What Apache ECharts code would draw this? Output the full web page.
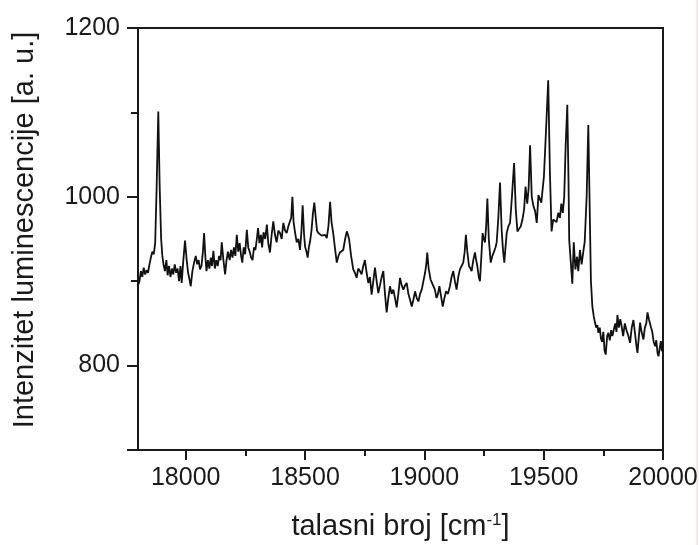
<!DOCTYPE html>
<html>
<head>
<meta charset="utf-8">
<script src="https://cdn.jsdelivr.net/npm/echarts@6/dist/echarts.min.js"></script>
<style>
  html, body { margin: 0; padding: 0; background: #fff; }
  #chart { width: 699px; height: 545px; }
</style>
</head>
<body>
<div id="chart"></div>
<script>
// Luminescence spectrum: wavenumber (cm^-1) vs. intensity (a. u.)
const wavenumber = [
  17800, 17806, 17812, 17818, 17824, 17830, 17836, 17842, 17848, 17854,
  17860, 17866, 17872, 17878, 17885, 17891, 17897, 17902, 17908, 17913,
  17919, 17924, 17930, 17936, 17942, 17948, 17954, 17960, 17966, 17972,
  17978, 17983, 17990, 17997, 18004, 18010, 18016, 18021, 18028, 18035,
  18042, 18048, 18054, 18060, 18066, 18072, 18077, 18082, 18087, 18093,
  18099, 18105, 18110, 18116, 18122, 18128, 18134, 18140, 18146, 18151,
  18158, 18165, 18171, 18177, 18184, 18190, 18196, 18202, 18208, 18214,
  18220, 18226, 18232, 18237, 18243, 18249, 18256, 18262, 18268, 18274,
  18280, 18286, 18292, 18298, 18303, 18309, 18315, 18320, 18326, 18333,
  18340, 18346, 18353, 18360, 18367, 18374, 18381, 18388, 18395, 18402,
  18409, 18416, 18423, 18430, 18437, 18442, 18447, 18452, 18458, 18465,
  18472, 18479, 18485, 18490, 18496, 18500, 18506, 18511, 18516, 18521,
  18527, 18533, 18539, 18545, 18550, 18556, 18563, 18570, 18577, 18584,
  18591, 18598, 18605, 18611, 18618, 18625, 18633, 18640, 18646, 18653,
  18660, 18668, 18675, 18680, 18685, 18693, 18702, 18709, 18716, 18723,
  18730, 18737, 18744, 18751, 18758, 18765, 18772, 18779, 18786, 18793,
  18800, 18807, 18814, 18821, 18828, 18835, 18842, 18849, 18856, 18863,
  18870, 18877, 18884, 18891, 18898, 18905, 18912, 18919, 18926, 18933,
  18940, 18947, 18954, 18961, 18968, 18975, 18982, 18989, 18996, 19003,
  19008, 19012, 19018, 19026, 19032, 19037, 19044, 19051, 19057, 19063,
  19070, 19077, 19084, 19091, 19099, 19107, 19114, 19121, 19128, 19135,
  19142, 19149, 19156, 19163, 19169, 19174, 19180, 19187, 19193, 19198,
  19205, 19212, 19217, 19222, 19228, 19233, 19239, 19244, 19249, 19254,
  19259, 19264, 19270, 19278, 19285, 19292, 19298, 19303, 19310, 19317,
  19324, 19330, 19335, 19340, 19345, 19352, 19359, 19367, 19376, 19383,
  19390, 19397, 19404, 19411, 19418, 19424, 19431, 19437, 19443, 19450,
  19457, 19464, 19471, 19478, 19485, 19490, 19496, 19501, 19510, 19519,
  19526, 19533, 19540, 19547, 19554, 19561, 19568, 19574, 19580, 19586,
  19592, 19599, 19604, 19607, 19613, 19620, 19626, 19633, 19640, 19645,
  19652, 19659, 19666, 19672, 19680, 19687, 19692, 19698, 19704, 19710,
  19715, 19720, 19725, 19729, 19735, 19740, 19745, 19750, 19755, 19760,
  19766, 19771, 19777, 19783, 19788, 19794, 19800, 19805, 19809, 19815,
  19821, 19827, 19833, 19840, 19848, 19855, 19862, 19869, 19876, 19882,
  19888, 19893, 19899, 19904, 19910, 19918, 19924, 19930, 19935, 19941,
  19949, 19955, 19961, 19967, 19972, 19977, 19981, 19986, 19991, 19995,
  20000
];

const intensity = [
  895, 900, 912, 905, 916, 908, 913, 910, 920, 928,
  935, 932, 945, 1010, 1101, 1010, 950, 930, 918, 912,
  925, 907, 918, 905, 915, 908, 920, 910, 915, 900,
  918, 898, 925, 948, 925, 910, 902, 894, 912, 922,
  930, 920, 925, 914, 918, 935, 957, 930, 912, 925,
  915, 928, 918, 936, 915, 925, 918, 930, 925, 946,
  925, 908, 925, 935, 925, 937, 928, 940, 930, 955,
  935, 945, 930, 922, 940, 932, 961, 940, 935, 928,
  925, 940, 937, 950, 963, 945, 955, 940, 958, 950,
  967, 945, 934, 955, 971, 955, 946, 960, 957, 950,
  969, 960, 957, 965, 971, 975, 1000, 970, 958, 946,
  950, 937, 960, 990, 955, 941, 935, 928, 940, 947,
  960, 980, 993, 975, 960, 957, 955, 954, 952, 955,
  951, 965, 994, 970, 957, 940, 922, 930, 934, 935,
  937, 950, 959, 955, 949, 930, 914, 910, 904, 915,
  912, 908, 918, 925, 910, 898, 905, 884, 900, 916,
  900, 886, 895, 905, 912, 885, 863, 880, 894, 885,
  890, 880, 869, 885, 904, 895, 890, 895, 898, 885,
  878, 870, 878, 888, 880, 876, 885, 890, 900, 910,
  920, 934, 915, 902, 898, 900, 890, 880, 885, 894,
  882, 870, 880, 888, 885, 894, 905, 912, 900, 890,
  905, 914, 918, 922, 935, 955, 935, 918, 915, 912,
  925, 934, 925, 918, 905, 900, 930, 957, 950, 946,
  965, 998, 950, 922, 930, 935, 940, 946, 975, 1017,
  960, 935, 922, 940, 957, 965, 969, 1000, 1040, 985,
  959, 962, 965, 973, 985, 1012, 992, 1010, 1061, 1000,
  989, 983, 969, 1002, 1000, 993, 1010, 1024, 1080, 1138,
  1030, 959, 973, 975, 970, 981, 975, 992, 981, 1000,
  1060, 1109, 1020, 949, 925, 897, 946, 914, 929, 912,
  937, 920, 935, 947, 1000, 1085, 1000, 900, 870, 858,
  851, 845, 848, 839, 845, 832, 828, 840, 818, 813,
  835, 839, 830, 842, 835, 843, 850, 840, 860, 845,
  855, 846, 835, 850, 841, 835, 827, 845, 854, 840,
  825, 815, 835, 851, 840, 831, 845, 850, 863, 855,
  846, 840, 828, 823, 830, 815, 811, 820, 829, 818,
  817
];

// Axis ticks and labels
const xMajorTicks = [18000, 18500, 19000, 19500, 20000];
const xMinorTicks = [18250, 18750, 19250, 19750];
const yLabelTicks = [800, 1000, 1200];
const yMajorTicks = [700, 800, 1000, 1200];
const yMinorTicks = [900, 1100];

const xTitle = 'talasni broj [cm';
const xTitleSup = '-1';
const yTitle = 'Intenzitet luminescencije [a. u.]';

const FONT = 'Liberation Sans, Arial, sans-serif';
const INK = '#1a1a1a';

const chart = echarts.init(document.getElementById('chart'), null, { renderer: 'canvas' });

const points = wavenumber.map((w, i) => [w, intensity[i]]);
const plain = (v) => String(v);

chart.setOption({
  animation: false,
  backgroundColor: '#ffffff',
  grid: {
    left: 138, right: 36, top: 28, bottom: 95,
    containLabel: false,
    outerBoundsMode: 'none',
    show: true,
    borderColor: INK,
    borderWidth: 2,
    backgroundColor: 'transparent'
  },
  xAxis: [
    {
      type: 'value',
      position: 'bottom',
      min: 17800,
      max: 20000,
      axisLine: { show: true, lineStyle: { color: INK, width: 2 } },
      axisTick: { show: true, inside: false, length: 10, customValues: xMajorTicks, lineStyle: { color: INK, width: 2 } },
      axisLabel: {
        show: true, customValues: xMajorTicks, margin: 16, formatter: plain,
        fontFamily: FONT, fontSize: 25, color: INK
      },
      splitLine: { show: false },
      name: '{t|' + xTitle + '}{s|' + xTitleSup + '}{t|]}',
      nameLocation: 'middle',
      nameGap: 62,
      nameTextStyle: {
        rich: {
          t: { fontFamily: FONT, fontSize: 29, color: INK },
          s: { fontFamily: FONT, fontSize: 17, color: INK, verticalAlign: 'top' }
        }
      }
    },
    {
      type: 'value',
      position: 'bottom',
      min: 17800,
      max: 20000,
      axisLine: { show: false },
      axisTick: { show: true, inside: false, length: 6, customValues: xMinorTicks, lineStyle: { color: INK, width: 2 } },
      axisLabel: { show: false },
      splitLine: { show: false }
    }
  ],
  yAxis: [
    {
      type: 'value',
      position: 'left',
      min: 700,
      max: 1200,
      axisLine: { show: true, lineStyle: { color: INK, width: 2 } },
      axisTick: { show: true, inside: false, length: 11, customValues: yMajorTicks, lineStyle: { color: INK, width: 2 } },
      axisLabel: {
        show: true, customValues: yLabelTicks, margin: 18, formatter: plain,
        fontFamily: FONT, fontSize: 25, color: INK
      },
      splitLine: { show: false },
      name: yTitle,
      nameLocation: 'middle',
      nameGap: 99,
      nameTextStyle: { fontFamily: FONT, fontSize: 29, color: INK, padding: [0, 0, 0, 18] }
    },
    {
      type: 'value',
      position: 'left',
      min: 700,
      max: 1200,
      axisLine: { show: false },
      axisTick: { show: true, inside: false, length: 7, customValues: yMinorTicks, lineStyle: { color: INK, width: 2 } },
      axisLabel: { show: false },
      splitLine: { show: false }
    }
  ],
  series: [
    {
      type: 'line',
      xAxisIndex: 0,
      yAxisIndex: 0,
      data: points,
      showSymbol: false,
      symbol: 'none',
      lineStyle: { color: '#111111', width: 1.8 },
      emphasis: { disabled: true }
    }
  ],
  graphic: [
    {
      type: 'line',
      silent: true,
      shape: { x1: 697, y1: 0, x2: 697, y2: 545 },
      style: { stroke: '#f5cccc', lineWidth: 1 }
    }
  ]
});
</script>
</body>
</html>
